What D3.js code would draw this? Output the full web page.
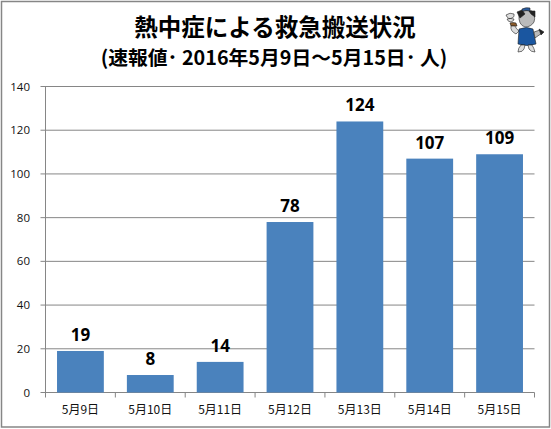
<!DOCTYPE html>
<html><head><meta charset="utf-8">
<script src="https://cdnjs.cloudflare.com/ajax/libs/d3/7.8.5/d3.min.js"></script>
<style>html,body{margin:0;padding:0;background:#fff}svg{display:block}</style></head>
<body><svg id="c" width="551" height="429"></svg>
<script>
const categories = ["5月9日","5月10日","5月11日","5月12日","5月13日","5月14日","5月15日"];
const values = [19,8,14,78,124,107,109];
const yTicks = [0,20,40,60,80,100,120,140];
const titleLine1 = "熱中症による救急搬送状況";
const titleLine2 = "(速報値･ 2016年5月9日～5月15日･ 人)";

const FONT = '"Noto Sans CJK JP","Open Sans",sans-serif';
const svg = d3.select("#c");
svg.append("rect").attr("x",1.5).attr("y",1.5).attr("width",548).attr("height",425.5)
  .attr("fill","#fff").attr("stroke","#868686").attr("stroke-width",1.5);

const x = d3.scaleBand().domain(categories).range([45.5,534.5]).paddingInner(0.33).paddingOuter(0.165);
const y = d3.scaleLinear().domain([0,140]).range([392.5,86.5]);

svg.append("g").selectAll("line").data(yTicks).join("line")
  .attr("x1",40.5).attr("x2",534.5)
  .attr("y1",d=>y(d)).attr("y2",d=>y(d))
  .attr("stroke","#868686").attr("stroke-width",1);

svg.append("g").selectAll("rect").data(values).join("rect")
  .attr("x",(d,i)=>x(categories[i])).attr("width",x.bandwidth())
  .attr("y",d=>y(d)).attr("height",d=>y(0)-y(d)).attr("fill","#4a82bd");

svg.append("line").attr("x1",45.5).attr("x2",45.5).attr("y1",y(140)).attr("y2",y(0)).attr("stroke","#868686");
svg.append("g").selectAll("line").data(d3.range(categories.length+1)).join("line")
  .attr("x1",i=>45.5+i*(489/categories.length)).attr("x2",i=>45.5+i*(489/categories.length))
  .attr("y1",y(0)).attr("y2",y(0)+5).attr("stroke","#868686");

svg.append("g").selectAll("text").data(yTicks).join("text")
  .attr("x",30).attr("y",d=>y(d)+4).attr("text-anchor","end")
  .attr("font-family",'"Open Sans",sans-serif').attr("font-size",11.5).attr("fill","#111").text(d=>d);

svg.append("g").selectAll("text").data(categories).join("text")
  .attr("x",d=>x(d)+x.bandwidth()/2).attr("y",414).attr("text-anchor","middle")
  .attr("font-family",FONT).attr("font-size",12).attr("fill","#111").text(d=>d);

svg.append("g").selectAll("text").data(values).join("text")
  .attr("x",(d,i)=>x(categories[i])+x.bandwidth()/2).attr("y",d=>y(d)-10)
  .attr("text-anchor","middle").attr("font-family",'"Open Sans",sans-serif')
  .attr("font-weight",700).attr("font-size",17).attr("fill","#000").text(d=>d);

svg.append("text").attr("x",275).attr("y",36).attr("text-anchor","middle")
  .attr("font-family",FONT).attr("font-weight",700).attr("font-size",23.5).attr("fill","#000").text(titleLine1);
svg.append("text").attr("x",274).attr("y",65).attr("text-anchor","middle")
  .attr("font-family",FONT).attr("font-weight",700).attr("font-size",19.8).attr("fill","#000").text(titleLine2);

// mascot
const m = svg.append("g");
const s=(c,a)=>m.append("path").attr("d",a).attr("fill",c).attr("stroke","#222").attr("stroke-width",0.6);
s("#ddd","M506 15 q4 -3 8 -1 q1 3 -2 4 q-4 2 -6 -3z M507 19 q3 -1 7 0 q0 2 -3 3 q-3 0 -4 -3z");
s("#8a5a2a","M510 23 q3 -1 6 0 l1 3 l-6 0z");
s("#bbb","M519 14 q5 -5 13 -3 q4 4 2 11 q-3 5 -9 5 q-7 -2 -6 -13z");
s("#222","M517 12 l5 -2 l3 4 l-5 4z M529 11 l6 0 l0 6 l-4 -3z");
s("#2a5c9e","M522 9 q4 -2 8 -1 l0 3 q-4 -1 -8 0z");
s("#ddd","M511 26 q-1 5 5 8 l3 -3 q-3 -2 -4 -5z");
s("#1a56a0","M519 29 q8 -3 14 0 l3 15 q-9 3 -18 0z");
s("#bbb","M534 32 l6 -2 l2 3 l-7 5z");
s("#222","M539 29 l5 3 l-3 3z");
s("#ddd","M521 45 l4 0 l-1 4 q-1 3 -6 3 q0 -4 3 -7z M528 45 l4 0 q2 3 3 7 q-4 0 -6 -3z");
</script></body></html>
